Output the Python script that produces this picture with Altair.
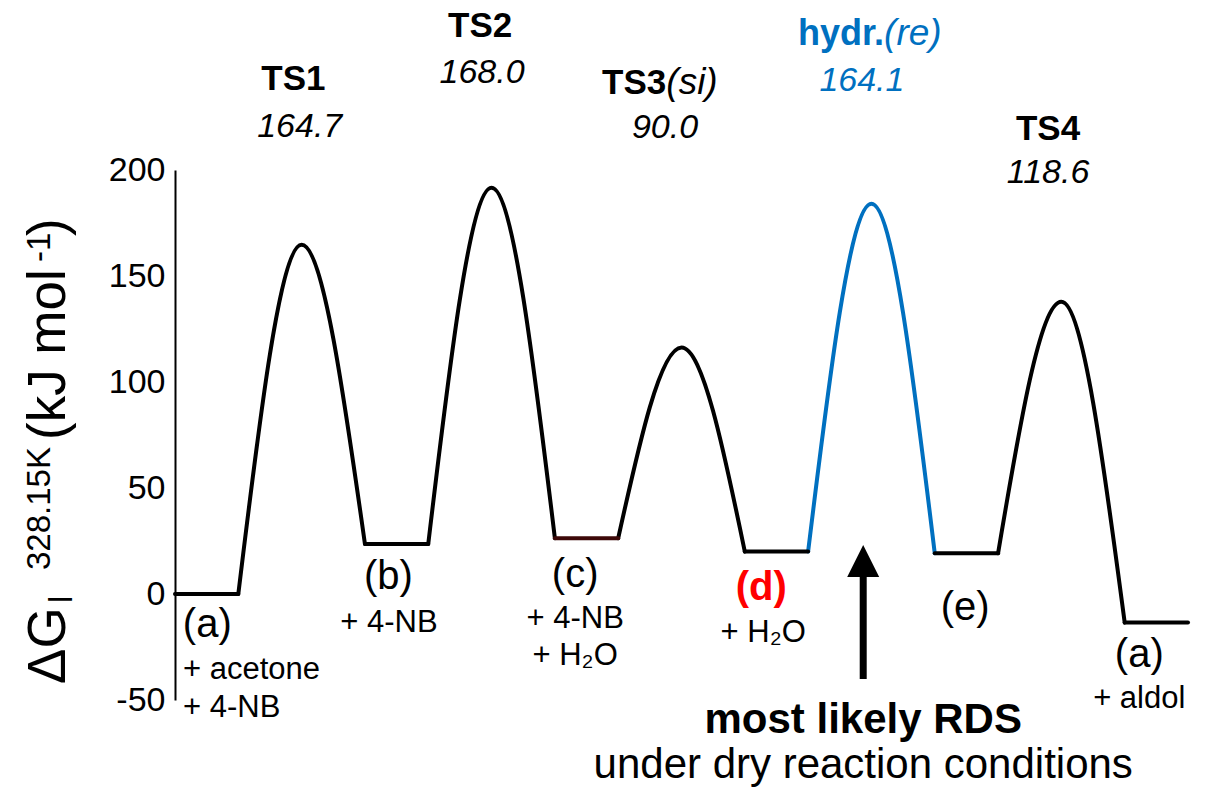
import altair as alt
import pandas as pd

# ---------------- data ----------------
state_names = ["(a)", "(b)", "(c)", "(d)", "(e)", "(a)"]
state_energy = [0.0, 23.6, 26.3, 20.0, 19.2, -13.5]          # kJ/mol
ts_names = ["TS1", "TS2", "TS3", "hydr.", "TS4"]
ts_energy = [164.7, 191.6, 116.3, 184.1, 137.8]              # kJ/mol (peak heights)
ts_barrier = ["164.7", "168.0", "90.0", "164.1", "118.6"]    # printed barriers
ts_highlight = [False, False, False, True, False]
y_ticks = [-50, 0, 50, 100, 150, 200]

BLACK = "#000000"
BLUE = "#0070C0"
RED = "#FF0000"
MAROON = "#3D0808"
FONT = "Liberation Sans"

# ---------------- profile table ----------------
rows = []
for i, e in enumerate(state_energy):
    col = MAROON if i == 2 else BLACK
    rows.append(dict(seg=f"S{i}", x=3 * i, y=e, col=col, z=1))
    rows.append(dict(seg=f"S{i}", x=3 * i + 1, y=e, col=col, z=1))
for i, p in enumerate(ts_energy):
    col = BLUE if ts_highlight[i] else BLACK
    rows.append(dict(seg=f"T{i}", x=3 * i + 1, y=state_energy[i], col=col, z=0))
    rows.append(dict(seg=f"T{i}", x=3 * i + 2, y=p, col=col, z=0))
    rows.append(dict(seg=f"T{i}", x=3 * i + 3, y=state_energy[i + 1], col=col, z=0))
profile = pd.DataFrame(rows)

xs = alt.Scale(domain=[0, 16], nice=False, zero=False)
ys = alt.Scale(domain=[-50, 200], nice=False, zero=False)

bumps = alt.Chart(profile[profile.z == 0]).mark_line(
    interpolate="monotone", strokeWidth=4, strokeCap="round", strokeJoin="round"
).encode(
    x=alt.X("x:Q", scale=xs, axis=None),
    y=alt.Y("y:Q", scale=ys, axis=alt.Axis(
        values=y_ticks, grid=False, ticks=False, domain=True, domainColor=BLACK,
        domainWidth=2, labelFont=FONT, labelFontSize=34, labelColor=BLACK,
        labelPadding=10, labelExpr="'' + datum.value", title=None)),
    detail="seg:N",
    color=alt.Color("col:N", scale=None),
    order="x:Q",
)
flats = alt.Chart(profile[profile.z == 1]).mark_line(
    strokeWidth=4, strokeCap="round"
).encode(
    x=alt.X("x:Q", scale=xs),
    y=alt.Y("y:Q", scale=ys),
    detail="seg:N",
    color=alt.Color("col:N", scale=None),
    order="x:Q",
)


def texts(df, **kw):
    base = dict(font=FONT, baseline="middle", align="center", color=BLACK)
    base.update(kw)
    return alt.Chart(pd.DataFrame(df)).mark_text(**base).encode(
        x=alt.X("x:Q", scale=xs), y=alt.Y("y:Q", scale=ys), text="t:N")


# TS labels (anchors in data units)
ts_x = [1.87, 4.82, 7.76, 11.2, 13.79]
ts_y = [243.0, 268.0, 241.2, 264.3, 219.4]
bar_x = [1.97, 4.85, 7.74, 10.85, 13.79]
bar_y = [220.5, 245.8, 219.6, 242.0, 198.4]

ts_plain = [dict(x=ts_x[i], y=ts_y[i], t=ts_names[i]) for i in (0, 1, 4)]
ts_right = [dict(x=ts_x[2], y=ts_y[2], t=ts_names[2])]
ts_hydr = [dict(x=ts_x[3], y=ts_y[3], t=ts_names[3])]
si_lbl = [dict(x=ts_x[2], y=ts_y[2], t="(si)")]
re_lbl = [dict(x=ts_x[3], y=ts_y[3], t="(re)")]
bar_black = [dict(x=bar_x[i], y=bar_y[i], t=ts_barrier[i]) for i in range(5) if not ts_highlight[i]]
bar_blue = [dict(x=bar_x[i], y=bar_y[i], t=ts_barrier[i]) for i in range(5) if ts_highlight[i]]

state_x = [0.51, 3.37, 6.32, 9.26, 12.48, 15.23]
state_y = [-14.6, 8.0, 9.0, 2.8, -6.6, -28.8]
st_black = [dict(x=state_x[i], y=state_y[i], t=state_names[i]) for i in range(6) if i != 3]
st_red = [dict(x=state_x[3], y=state_y[3], t=state_names[3])]

species_left = [dict(x=0.126, y=-35.8, t="+ acetone"), dict(x=0.126, y=-53.8, t="+ 4-NB")]
species_center = [
    dict(x=3.38, y=-13.5, t="+ 4-NB"),
    dict(x=6.32, y=-11.8, t="+ 4-NB"),
    dict(x=6.32, y=-29.2, t="+ H₂O"),
    dict(x=9.29, y=-18.4, t="+ H₂O"),
    dict(x=15.23, y=-49.5, t="+ aldol"),
]

rds_bold = [dict(x=10.87, y=-59.4, t="most likely RDS")]
rds_norm = [dict(x=10.87, y=-80.7, t="under dry reaction conditions")]

arrow_df = pd.DataFrame([dict(x=10.87, y=-40.1, y2=9.0)])
arrow_shaft = alt.Chart(arrow_df).mark_rule(color=BLACK, strokeWidth=7).encode(
    x=alt.X("x:Q", scale=xs), y=alt.Y("y:Q", scale=ys), y2="y2:Q")
head_df = pd.DataFrame([dict(x=10.87, y=15.6)])
arrow_head = alt.Chart(head_df).mark_point(
    shape="M0,-1L1,1L-1,1Z", size=1024, filled=True, color=BLACK, opacity=1, strokeWidth=0
).encode(x=alt.X("x:Q", scale=xs), y=alt.Y("y:Q", scale=ys))

layers = [
    bumps, flats, arrow_shaft, arrow_head,
    texts(ts_plain, fontSize=35, fontWeight="bold"),
    texts(ts_right, fontSize=35, fontWeight="bold", align="right"),
    texts(si_lbl, fontSize=37, fontStyle="italic", align="left"),
    texts(ts_hydr, fontSize=36, fontWeight="bold", align="right", color=BLUE),
    texts(re_lbl, fontSize=37, fontStyle="italic", align="left", color=BLUE),
    texts(bar_black, fontSize=34, fontStyle="italic"),
    texts(bar_blue, fontSize=34, fontStyle="italic", color=BLUE),
    texts(st_black, fontSize=40),
    texts(st_red, fontSize=40, fontWeight="bold", color=RED),
    texts(species_left, fontSize=31, align="left"),
    texts(species_center, fontSize=31),
    texts(rds_bold, fontSize=42, fontWeight="bold"),
    texts(rds_norm, fontSize=42),
]

# rotated y-axis title, built from pieces (plot-relative pixel anchors)
title_parts = [
    ("ΔG", -110, 514, 53),
    ("l", -103, 433, 33),
    ("328.15K", -125, 400, 33),
    ("(kJ mol", -110, 270, 53),
    ("-1", -125, 92, 33),
    (")", -110, 66, 53),
]
one = pd.DataFrame([{"k": 0}])
for t, px, py, fs in title_parts:
    layers.append(
        alt.Chart(one).mark_text(
            text=t, font=FONT, fontSize=fs, angle=270, align="left",
            baseline="alphabetic", color=BLACK
        ).encode(x=alt.value(px), y=alt.value(py))
    )

chart = alt.layer(*layers).properties(
    width=1013, height=530,
    padding={"left": 167, "top": 162, "right": 13, "bottom": 90},
    autosize=alt.AutoSizeParams(type="none"),
).configure_view(stroke=None)

chart.save("out.html", embed_options={"renderer": "svg", "actions": False})
